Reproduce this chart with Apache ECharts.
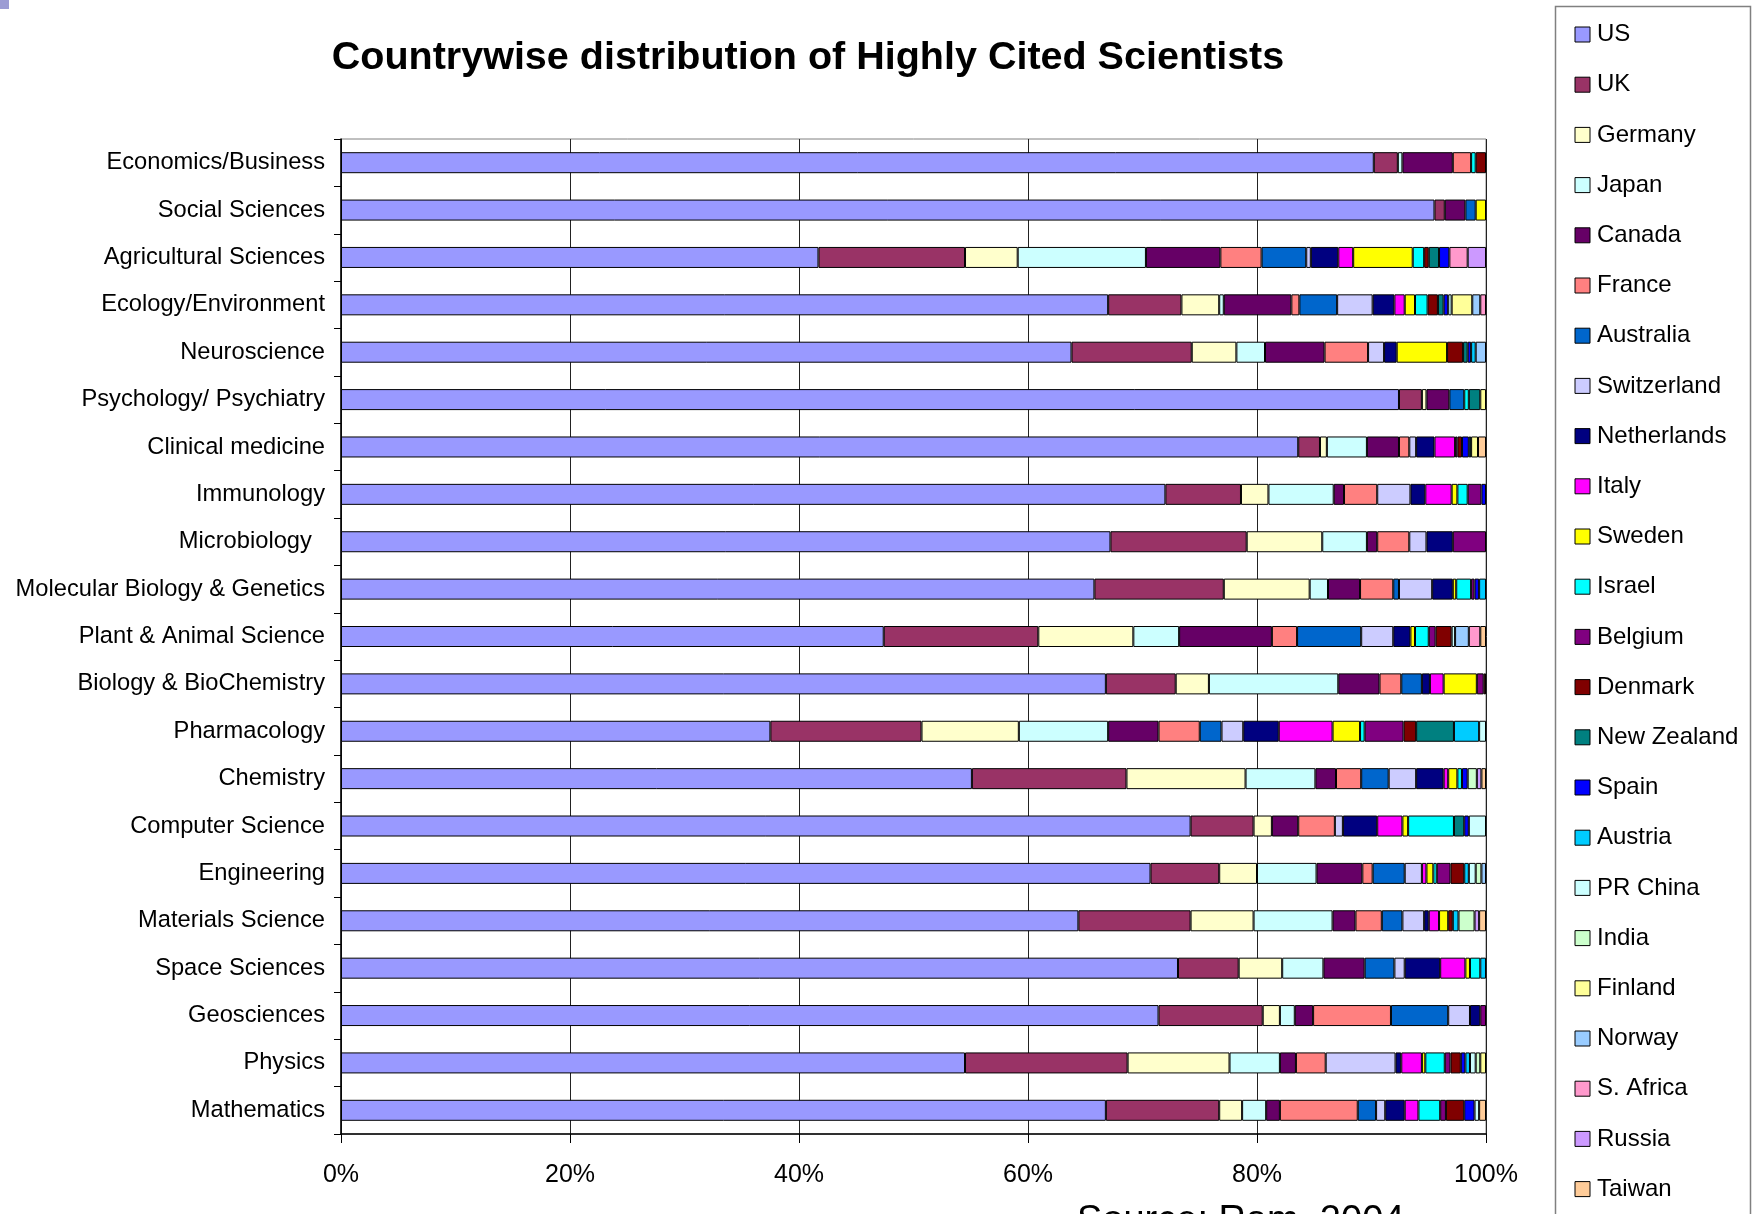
<!DOCTYPE html>
<html>
<head>
<meta charset="utf-8">
<script src="https://cdn.jsdelivr.net/npm/echarts@6/dist/echarts.min.js"></script>
<style>
html,body{margin:0;padding:0;background:#fff;}
#chart{width:1756px;height:1214px;}
</style>
</head>
<body>
<div id="chart"></div>
<script>
// Categories, top to bottom
const categories = ["Economics/Business","Social Sciences","Agricultural Sciences","Ecology/Environment","Neuroscience","Psychology/ Psychiatry","Clinical medicine","Immunology","Microbiology  ","Molecular Biology & Genetics","Plant & Animal Science","Biology & BioChemistry","Pharmacology","Chemistry","Computer Science","Engineering","Materials Science","Space Sciences","Geosciences","Physics","Mathematics"];

const xTicks = [0, 20, 40, 60, 80, 100];

// Percentage share of each country per field (same order as categories)
const US          = [90.2,95.5,41.7,67.0,63.8,92.4,83.6,72.0,67.2,65.8,47.4,66.8,37.5,55.1,74.2,70.7,64.4,73.1,71.4,54.5,66.8];
const UK          = [2.1,0.9,12.8,6.4,10.5,2.0,1.9,6.6,11.9,11.3,13.5,6.1,13.2,13.5,5.5,6.0,9.8,5.3,9.1,14.2,9.9];
const Germany     = [0,0,4.6,3.3,3.9,0.4,0.6,2.4,6.6,7.5,8.3,2.9,8.5,10.4,1.6,3.3,5.5,3.8,1.5,8.9,2.0];
const Japan       = [0.4,0,11.2,0.4,2.5,0,3.5,5.7,3.9,1.6,4.0,11.3,7.8,6.1,0,5.2,6.9,3.6,1.3,4.4,2.1];
const Canada      = [4.4,1.8,6.5,5.9,5.2,2.0,2.8,0.9,0.9,2.8,8.1,3.6,4.4,1.8,2.3,4.0,2.0,3.6,1.6,1.4,1.2];
const France      = [1.6,0,3.6,0.7,3.8,0,0.9,2.9,2.8,2.9,2.2,1.9,3.6,2.2,3.2,0.9,2.3,0,6.8,2.6,6.8];
const Australia   = [0,0.9,3.9,3.3,0,1.3,0,0,0,0.5,5.6,1.8,1.9,2.4,0,2.8,1.8,2.6,5.0,0,1.6];
const Switzerland = [0,0,0.4,3.1,1.4,0,0.6,2.9,1.5,2.9,2.8,0,1.9,2.4,0.7,1.5,1.9,0.9,1.9,6.1,0.8];
const Netherlands = [0,0,2.4,1.9,1.1,0,1.6,1.3,2.3,1.8,1.5,0.7,3.1,2.4,3.0,0,0.4,3.1,0.9,0.5,1.7];
const Italy       = [0,0,1.3,0.9,0,0,1.8,2.3,0,0,0,1.2,4.7,0.4,2.2,0.4,0.9,2.2,0,1.8,1.2];
const Sweden      = [0,0.9,5.2,0.9,4.4,0,0,0.5,0,0.3,0.4,2.9,2.4,0.8,0.5,0.6,0.8,0.4,0,0.3,0];
const Israel      = [0.4,0,1.0,1.1,0,0.4,0,0.9,0,1.3,1.2,0,0.4,0.4,4.0,0.3,0,0.9,0,1.7,1.9];
const Belgium     = [0,0,0,0,0,0,0.2,1.2,2.9,0.3,0.6,0.6,3.4,0,0,1.2,0,0,0.5,0.5,0.5];
const Denmark     = [0.9,0,0.4,0.9,1.4,0,0.4,0,0,0,1.4,0.2,1.1,0,0,1.2,0.4,0,0,0.9,1.6];
const NewZealand  = [0,0,0.9,0.5,0.4,1.0,0,0,0,0,0,0,3.3,0,0.9,0,0,0,0,0,0];
const Spain       = [0,0,0.9,0.4,0.3,0,0.6,0.4,0,0.4,0,0,0,0.5,0.4,0,0,0,0,0.4,0.9];
const Austria     = [0,0,0,0,0.4,0,0.2,0,0,0.6,0,0,2.2,0,0,0.4,0.5,0.5,0,0.4,0];
const PRChina     = [0,0,0,0.3,0,0,0,0,0,0,0.3,0,0.6,0,1.5,0.6,0,0,0,0.5,0.4];
const India       = [0,0,0,0,0,0,0,0,0,0,0,0,0,0.8,0,0.5,1.4,0,0,0.4,0];
const Finland     = [0,0,0,1.8,0,0.5,0.6,0,0,0,0,0,0,0,0,0,0,0,0,0.5,0];
const Norway      = [0,0,0,0.7,0.9,0,0,0,0,0,1.2,0,0,0,0,0.4,0,0,0,0,0];
const SAfrica     = [0,0,1.6,0.5,0,0,0,0,0,0,1.0,0,0,0,0,0,0,0,0,0,0];
const Russia      = [0,0,1.6,0,0,0,0,0,0,0,0,0,0,0.4,0,0,0.4,0,0,0,0];
const Taiwan      = [0,0,0,0,0,0,0.7,0,0,0,0.5,0,0,0.4,0,0,0.6,0,0,0,0.6];

const countryNames = ["US","UK","Germany","Japan","Canada","France","Australia","Switzerland","Netherlands","Italy","Sweden","Israel","Belgium","Denmark","New Zealand","Spain","Austria","PR China","India","Finland","Norway","S. Africa","Russia","Taiwan"];
const countryValues = [US,UK,Germany,Japan,Canada,France,Australia,Switzerland,Netherlands,Italy,Sweden,Israel,Belgium,Denmark,NewZealand,Spain,Austria,PRChina,India,Finland,Norway,SAfrica,Russia,Taiwan];
const countryColors = ["#9999FF","#993366","#FFFFCC","#CCFFFF","#660066","#FF8080","#0066CC","#CCCCFF","#000080","#FF00FF","#FFFF00","#00FFFF","#800080","#800000","#008080","#0000FF","#00CCFF","#CCFFFF","#CCFFCC","#FFFF99","#99CCFF","#FF99CC","#CC99FF","#FFCC99"];

const FONT = "'Liberation Sans', Arial, sans-serif";
const chart = echarts.init(document.getElementById('chart'), null, {renderer: 'canvas'});

const series = countryNames.map((name, i) => ({
  name: name,
  type: 'bar',
  stack: 'total',
  barWidth: 21,
  data: countryValues[i].map(v => v > 0 ? v : '-'),
  itemStyle: {color: countryColors[i], borderColor: '#000', borderWidth: 1},
  emphasis: {disabled: true},
  animation: false
}));

chart.setOption({
  backgroundColor: '#fff',
  animation: false,
  color: countryColors,
  graphic: [
    {type: 'rect', left: 0, top: 0, shape: {width: 9, height: 9}, style: {fill: '#9c9cd4'}},
    {type: 'text', x: 808, y: 58, style: {text: 'Countrywise distribution of Highly Cited Scientists', font: 'bold 39.5px ' + FONT, fill: '#000', textAlign: 'center', textVerticalAlign: 'middle'}},
    {type: 'rect', shape: {x: 1555.5, y: 6.5, width: 195, height: 1230}, style: {fill: 'none', stroke: '#808080', lineWidth: 1.5}, z: 100},
    {type: 'text', left: 1077, top: 1203, style: {text: 'Source: Ram, 2004', font: '38px ' + FONT, fill: '#000'}}
  ],
  legend: {
    orient: 'vertical',
    left: 1569.5,
    top: 17.5,
    itemWidth: 15,
    itemHeight: 15,
    itemGap: 26.2,
    icon: 'rect',
    itemStyle: {borderColor: '#000', borderWidth: 1},
    textStyle: {fontFamily: FONT, fontSize: 24, color: '#000', lineHeight: 24, padding: [0, 0, 0, 2]},
    data: countryNames
  },
  grid: {left: 341, right: 270, top: 139, bottom: 80, show: true, borderColor: '#808080', borderWidth: 1, containLabel: false},
  xAxis: {
    type: 'value',
    min: xTicks[0],
    max: xTicks[xTicks.length - 1],
    interval: 20,
    axisLine: {show: true, lineStyle: {color: '#000', width: 1.5}},
    axisTick: {show: true, length: 9, lineStyle: {color: '#000'}},
    splitLine: {show: true, lineStyle: {color: '#222', width: 1}},
    axisLabel: {formatter: '{value}%', fontFamily: FONT, fontSize: 25, color: '#000', margin: 29}
  },
  yAxis: {
    type: 'category',
    inverse: true,
    data: categories,
    axisLine: {show: true, lineStyle: {color: '#000', width: 1.5}},
    axisTick: {show: true, length: 7, lineStyle: {color: '#000'}},
    axisLabel: {fontFamily: FONT, fontSize: 23.7, color: '#000', margin: 16}
  },
  series: series
});
</script>
</body>
</html>
